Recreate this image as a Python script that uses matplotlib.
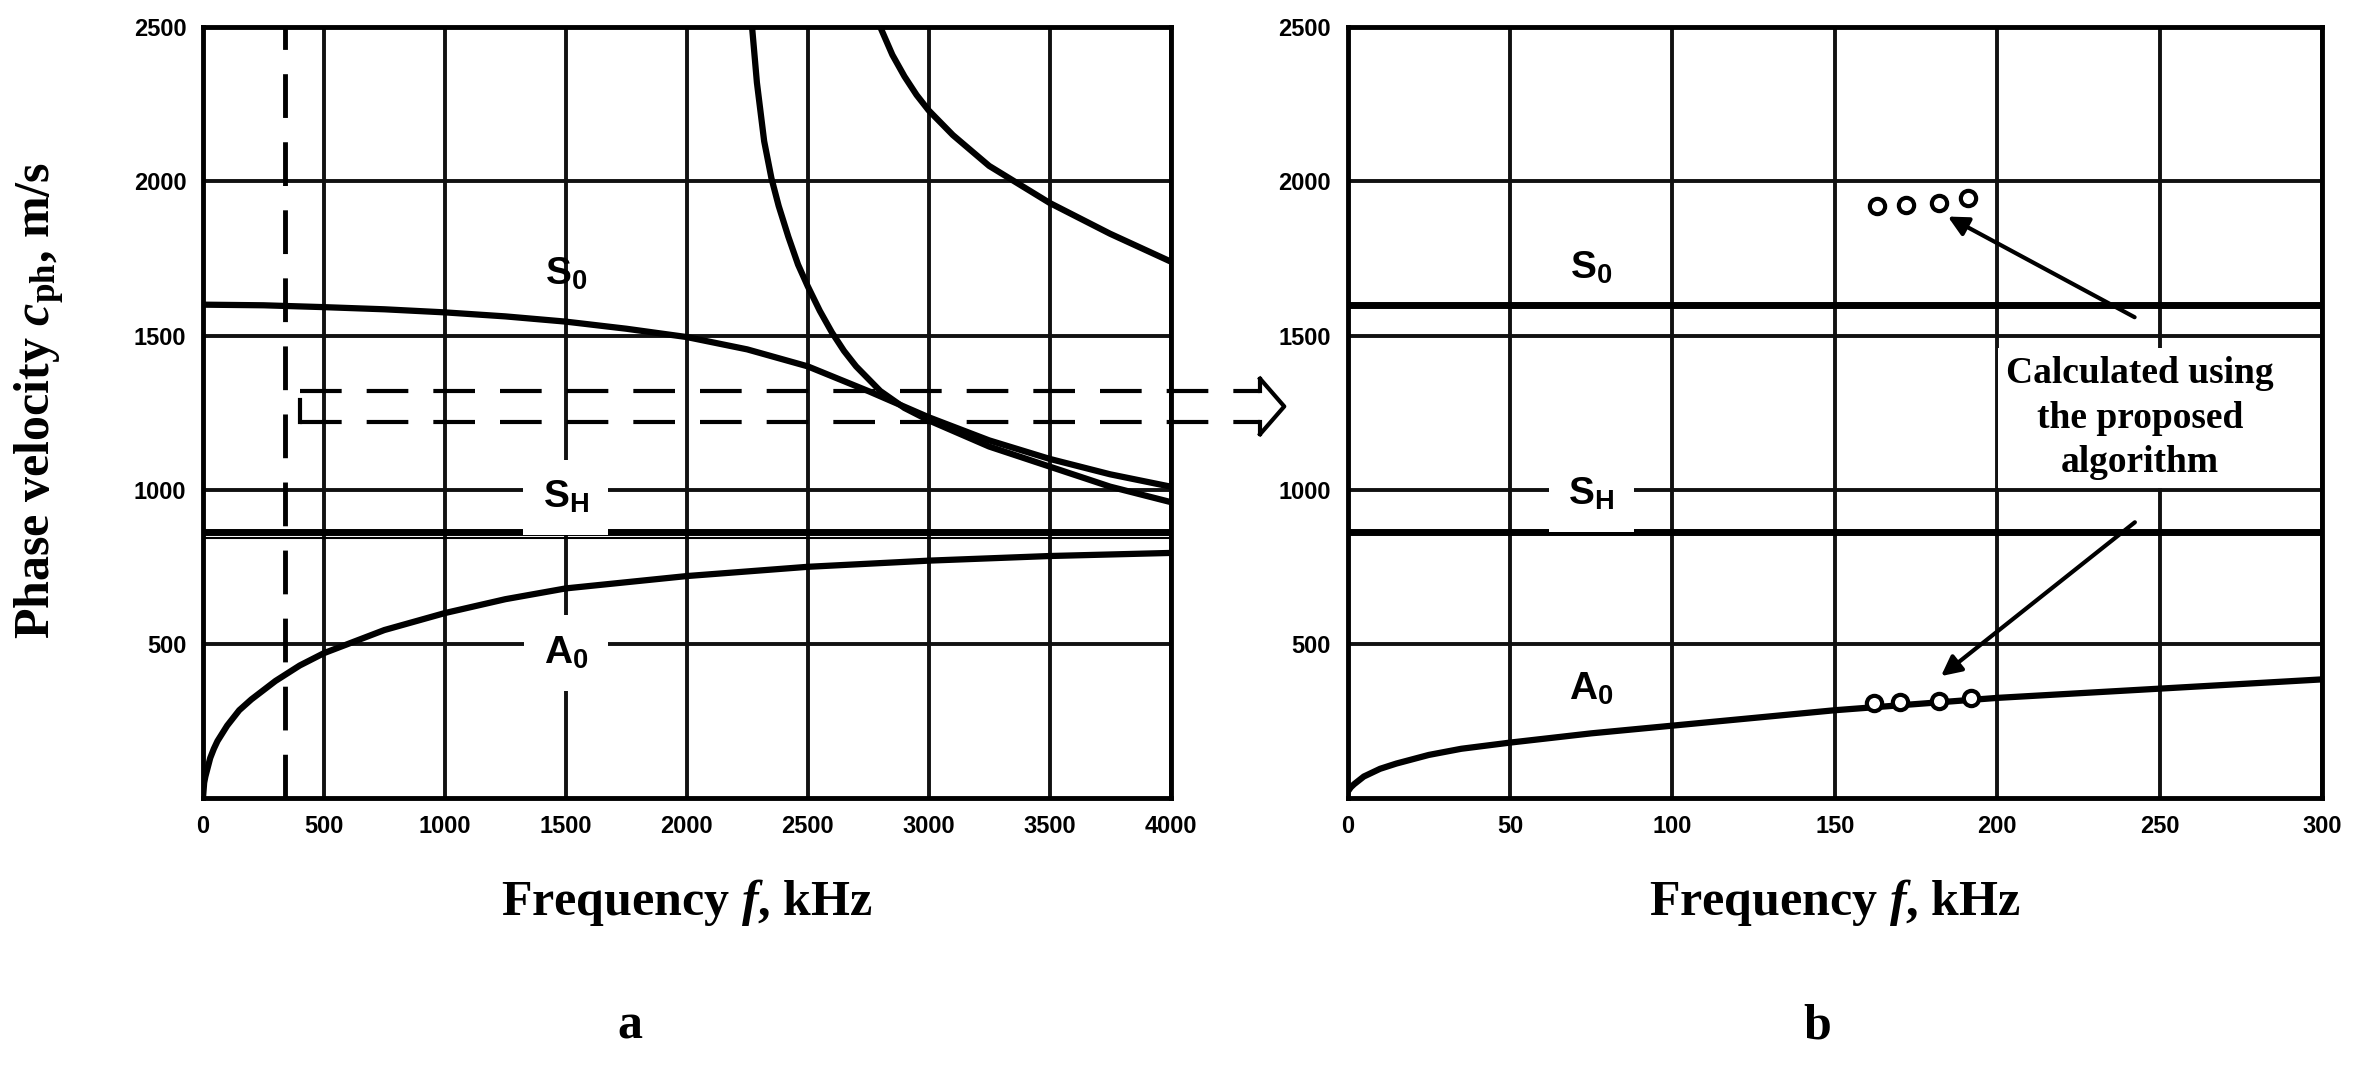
import matplotlib
matplotlib.use("Agg")
import matplotlib.pyplot as plt

plt.rcParams['mathtext.fontset'] = 'custom'
plt.rcParams['mathtext.rm'] = 'Liberation Serif:bold'
plt.rcParams['mathtext.it'] = 'Liberation Serif:bold:italic'
plt.rcParams['mathtext.bf'] = 'Liberation Serif:bold'

# ---- data (panel a) ----
s0_f = [0, 250, 500, 750, 1000, 1250, 1500, 1750, 2000, 2250, 2500, 2750, 3000, 3250, 3500, 3750, 4000]
s0_v = [1600, 1598, 1592, 1585, 1575, 1562, 1545, 1522, 1495, 1455, 1400, 1320, 1235, 1160, 1100, 1050, 1010]
s1_f = [2270, 2290, 2320, 2350, 2380, 2420, 2460, 2500, 2550, 2600, 2650, 2700, 2800, 2900, 3000, 3250, 3500, 3750, 4000]
s1_v = [2500, 2320, 2130, 2010, 1920, 1820, 1730, 1660, 1580, 1510, 1450, 1400, 1320, 1265, 1225, 1140, 1075, 1010, 960]
s2_f = [2800, 2850, 2900, 2950, 3000, 3100, 3250, 3500, 3750, 4000]
s2_v = [2500, 2410, 2340, 2280, 2230, 2150, 2050, 1930, 1830, 1740]
a0_f = [0, 5, 10, 20, 30, 45, 60, 80, 100, 150, 200, 300, 400, 500, 750, 1000, 1250, 1500, 2000, 2500, 3000, 3500, 4000]
a0_v = [0, 50, 70, 100, 130, 160, 185, 210, 235, 285, 320, 380, 430, 470, 545, 600, 645, 680, 720, 750, 770, 785, 795]
sh_level = 862
sh_thin = 842
# ---- data (panel b) ----
b_a0_f = [0, 1, 2, 5, 10, 15, 25, 35, 50, 75, 100, 150, 200, 250, 300]
b_a0_v = [20, 35, 45, 70, 95, 112, 140, 160, 180, 210, 235, 285, 325, 355, 385]
b_s0_level = 1600
calc_s0_f = [163, 172, 182, 191]
calc_s0_v = [1920, 1922, 1930, 1945]
calc_a0_f = [162, 170, 182, 192]
calc_a0_v = [310, 312, 315, 325]

xa_ticks = [0, 500, 1000, 1500, 2000, 2500, 3000, 3500, 4000]
xb_ticks = [0, 50, 100, 150, 200, 250, 300]
y_ticks = [500, 1000, 1500, 2000, 2500]

fig = plt.figure(figsize=(23.6, 10.67), dpi=100)
axa = fig.add_axes([0.086, 0.252, 0.41, 0.7226])
axb = fig.add_axes([0.571, 0.252, 0.413, 0.7226])

tickfont = dict(family='Liberation Sans', weight='bold', size=17)
labfont = dict(family='Liberation Serif', weight='bold', size=36)
lw_curve = 4.5

def style(ax, xt, xmax):
    ax.set_xlim(0, xmax)
    ax.set_ylim(0, 2500)
    ax.set_xticks(xt)
    ax.set_yticks(y_ticks)
    ax.set_xticklabels([str(t) for t in xt], **tickfont)
    ax.set_yticklabels([str(t) for t in y_ticks], **tickfont)
    ax.tick_params(length=0, pad=12)
    ax.grid(True, color='#111111', lw=2.8)
    ax.set_axisbelow(True)
    for s in ax.spines.values():
        s.set_linewidth(3.5)
    ax.set_xlabel(r"Frequency $f$, kHz", labelpad=28, **labfont)

style(axa, xa_ticks, 4000)
style(axb, xb_ticks, 300)

# panel a curves
for fx, vy in [(s0_f, s0_v), (s1_f, s1_v), (s2_f, s2_v), (a0_f, a0_v)]:
    axa.plot(fx, vy, color='black', lw=lw_curve, zorder=3, solid_capstyle='butt')
axa.axhline(sh_level, color='black', lw=5, zorder=3)
axa.axhline(sh_thin, color='black', lw=1.5, zorder=3)
axa.plot([340, 340], [0, 2500], color='black', lw=3.5, dashes=(9, 5), zorder=4)

lblfont = dict(family='Liberation Sans', weight='bold', size=28, ha='center', va='center', zorder=5)
box = dict(facecolor='white', edgecolor='none', pad=14)
S0 = r"S$_{\mathregular{0}}$"
SH = r"S$_{\mathregular{H}}$"
A0 = r"A$_{\mathregular{0}}$"
axa.text(1500, 1700, S0, **lblfont)
axa.text(1500, 975, SH, bbox=box, **lblfont)
axa.text(1500, 470, A0, bbox=box, **lblfont)

# dashed connecting arrow (panel a data coords, extending beyond the axes)
dk = dict(color='black', lw=3, dashes=(10, 6), clip_on=False, zorder=6)
sk = dict(color='black', lw=3, clip_on=False, zorder=6)
axa.plot([400, 400], [1290, 1220], **sk)
axa.plot([400, 4370], [1320, 1320], **dk)
axa.plot([400, 4370], [1220, 1220], **dk)
axa.plot([4370, 4370], [1320, 1360], **sk)
axa.plot([4370, 4370], [1220, 1180], **sk)
axa.plot([4370, 4470, 4370], [1360, 1270, 1180], **sk)

# panel b
axb.axhline(b_s0_level, color='black', lw=5, zorder=3)
axb.axhline(sh_level, color='black', lw=5, zorder=3)
axb.plot(b_a0_f, b_a0_v, color='black', lw=lw_curve, zorder=3)
axb.plot(calc_s0_f, calc_s0_v, 'o', ms=11, mfc='white', mec='black', mew=3, zorder=4)
axb.plot(calc_a0_f, calc_a0_v, 'o', ms=11, mfc='white', mec='black', mew=3, zorder=4)
axb.text(75, 1720, S0, **lblfont)
axb.text(75, 985, SH, bbox=box, **lblfont)
axb.text(75, 355, A0, **lblfont)
axb.text(244, 1232, "Calculated using\nthe proposed\nalgorithm", family='Liberation Serif',
         weight='bold', size=27, ha='center', va='center', linespacing=1.35, zorder=5,
         bbox=dict(facecolor='white', edgecolor='none', pad=6))
arrowp = dict(arrowstyle='-|>', color='black', lw=3, mutation_scale=30)
axb.annotate("", xy=(184, 1890), xytext=(243, 1555), arrowprops=arrowp, zorder=6)
axb.annotate("", xy=(182, 390), xytext=(243, 900), arrowprops=arrowp, zorder=6)

fig.text(0.017, 0.625, r"Phase velocity $c_{\rm ph}$, m/s", rotation=90, ha='center', va='center', **labfont)
fig.text(0.267, 0.038, "a", ha='center', va='center', **labfont)
fig.text(0.770, 0.038, "b", ha='center', va='center', **labfont)

fig.savefig("out.png", dpi=100)
